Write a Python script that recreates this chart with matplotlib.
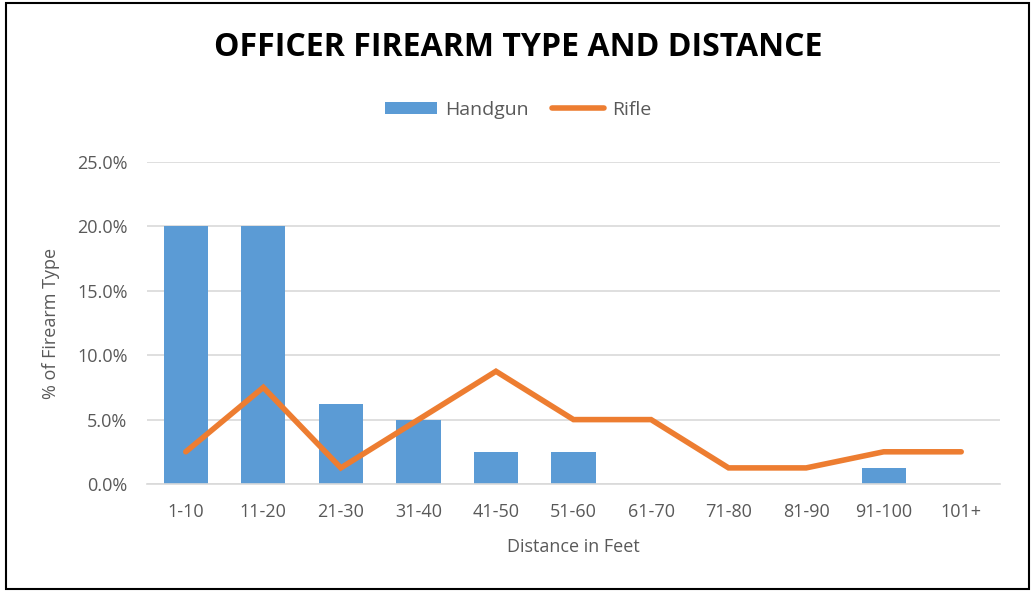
import matplotlib.pyplot as plt
from matplotlib.patches import Rectangle
from matplotlib.ticker import PercentFormatter

# datos
distancias = ['1-10', '11-20', '21-30', '31-40', '41-50', '51-60',
              '61-70', '71-80', '81-90', '91-100', '101+']
handgun = [20.0, 20.0, 6.25, 5.0, 2.5, 2.5, 0, 0, 0, 1.25, 0]
rifle = [2.5, 7.5, 1.25, 5.0, 8.75, 5.0, 5.0, 1.25, 1.25, 2.5, 2.5]

plt.rcParams['font.family'] = ['Open Sans', 'DejaVu Sans']

fig = plt.figure(figsize=(10.36, 5.92), dpi=100)
ax = fig.add_axes([147/1036, 1-484/592, 853/1036, 322/592])

x = range(len(distancias))
barras = ax.bar(x, handgun, width=0.57, color='#5B9BD5', label='Handgun', zorder=2)
linea, = ax.plot(x, rifle, color='#ED7D31', linewidth=4, solid_capstyle='round',
                 solid_joinstyle='miter', label='Rifle', zorder=3)

ax.set_xlim(-0.5, len(distancias) - 0.5)
ax.set_ylim(0, 25)
ax.set_yticks([0, 5, 10, 15, 20, 25])
ax.yaxis.set_major_formatter(PercentFormatter(decimals=1))
ax.set_xticks(list(x))
ax.set_xticklabels(distancias)
ax.grid(axis='y', color='#D9D9D9', linewidth=1.2, zorder=0)
for s in ['top', 'right', 'left']:
    ax.spines[s].set_visible(False)
ax.spines['bottom'].set_color('#D9D9D9')
ax.spines['bottom'].set_linewidth(1.2)
ax.tick_params(length=0, labelsize=13, colors='#595959', pad=14)
ax.set_xlabel('Distance in Feet', fontsize=13, color='#595959', labelpad=12)
ax.set_ylabel('% of Firearm Type', fontsize=13, color='#595959', labelpad=12)

fig.text(0.5, 1-47/592, 'OFFICER FIREARM TYPE AND DISTANCE', ha='center',
         va='center', fontsize=23, fontweight='bold')
fig.legend([barras, linea], ['Handgun', 'Rifle'], loc='center',
           bbox_to_anchor=(0.5, 1-110/592), ncol=2, frameon=False,
           fontsize=14, handlelength=2.7, handleheight=0.6, handletextpad=0.4,
           columnspacing=1.2, labelcolor='#595959')

# marco negro
fig.patches.append(Rectangle((6/1036, 3/592), 1023/1036, 586/592,
                             transform=fig.transFigure, fill=False,
                             edgecolor='black', linewidth=1.5))

plt.savefig('out.png', dpi=100)
